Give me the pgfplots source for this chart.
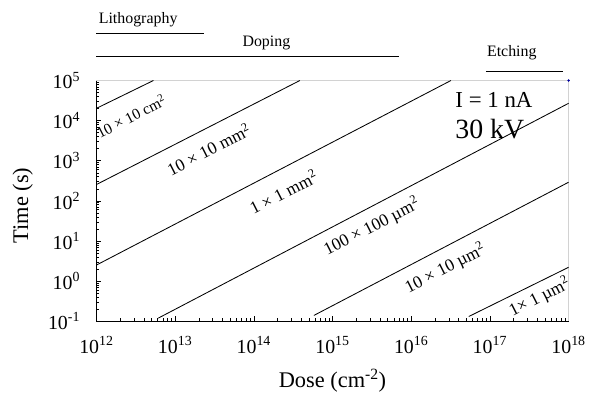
\documentclass[border=0pt]{standalone}
\usepackage{fontspec}
\setmainfont{Liberation Serif}
\usepackage{pgfplots}
\pgfplotsset{compat=1.18}
\begin{document}
\begin{tikzpicture}
\begin{axis}[
  scale only axis, width=475pt, height=242pt,
  xmode=log, ymode=log,
  xmin=1e12, xmax=1e18, ymin=1e-1, ymax=1e5,
  axis lines=left, axis line style={-, black, line width=0.6pt},
  tick align=inside,
  xtick={1e12,1e13,1e14,1e15,1e16,1e17,1e18},
  xticklabels={10\textsuperscript{12},10\textsuperscript{13},10\textsuperscript{14},10\textsuperscript{15},10\textsuperscript{16},10\textsuperscript{17},10\textsuperscript{18}},
  ytick={1e-1,1e0,1e1,1e2,1e3,1e4,1e5},
  yticklabels={10\textsuperscript{-1},10\textsuperscript{0},10\textsuperscript{1},10\textsuperscript{2},10\textsuperscript{3},10\textsuperscript{4},10\textsuperscript{5}},
  ticklabel style={font=\fontsize{20}{20}\selectfont},
  xticklabel style={yshift=-12pt},
  yticklabel style={xshift=-13pt},
  xlabel={Dose (cm\textsuperscript{-2})},
  ylabel={Time (s)},
  label style={font=\fontsize{22.5}{22.5}\selectfont},
  xlabel style={at={([yshift=-60pt]axis description cs:0.5,0)}, anchor=center},
  ylabel style={at={([xshift=-74pt]axis description cs:0,0.481)}, anchor=center},
  clip=false,
  major tick length=5pt, minor tick length=3pt,
  tick style={black, line width=0.4pt},
]
\draw[gray!35, line width=0.6pt] (rel axis cs:0,1) -- (rel axis cs:1,1) -- (rel axis cs:1,0);
% time vs dose lines
\addplot[black, line width=0.85pt] coordinates {(1e12,2.02e4) (5.3e12,1e5)};
\addplot[black, line width=0.85pt] coordinates {(1e12,254) (3.85e14,1e5)};
\addplot[black, line width=0.85pt] coordinates {(1e12,2.49) (3.2e16,1e5)};
\addplot[black, line width=0.85pt] coordinates {(6.1e12,0.118) (1e18,2.7e4)};
\addplot[black, line width=0.85pt] coordinates {(5.8e14,0.138) (1e18,290)};
\addplot[black, line width=0.85pt] coordinates {(5.4e16,0.13) (1e18,2.19)};
% process ranges
\addplot[black, line width=0.85pt] coordinates {(1e12,1.5e6) (2.31e13,1.5e6)};
\addplot[black, line width=0.85pt] coordinates {(1e12,3.94e5) (7.1e15,3.94e5)};
\addplot[black, line width=0.85pt] coordinates {(8.9e16,1.67e5) (8.4e17,1.67e5)};
\addplot[only marks, mark=*, mark size=1pt, color={rgb,255:red,0;green,0;blue,160}] coordinates {(1e18,1e5)};
\node[font=\fontsize{16}{16}\selectfont] at (axis cs:3.39e12,3.3e6) {Lithography};
\node[font=\fontsize{16}{16}\selectfont] at (axis cs:1.445e14,8.6e5) {Doping};
\node[font=\fontsize{16}{16}\selectfont] at (axis cs:1.9e17,4.9e5) {Etching};
\node[font=\fontsize{15.5}{15.5}\selectfont, rotate=27] at (axis cs:2.75e12,1.3e4) {10 × 10 cm\textsuperscript{2}};
\node[font=\fontsize{17.5}{17.5}\selectfont, rotate=27] at (axis cs:2.67e13,1945) {10 × 10 mm\textsuperscript{2}};
\node[font=\fontsize{17.5}{17.5}\selectfont, rotate=27] at (axis cs:2.37e14,167) {1 × 1 mm\textsuperscript{2}};
\node[font=\fontsize{17.5}{17.5}\selectfont, rotate=27] at (axis cs:3.155e15,22.6) {100 × 100 µm\textsuperscript{2}};
\node[font=\fontsize{17.5}{17.5}\selectfont, rotate=27] at (axis cs:2.71e16,2.06) {10 × 10 µm\textsuperscript{2}};
\node[font=\fontsize{17.5}{17.5}\selectfont, rotate=27] at (axis cs:4.3e17,0.394) {1× 1 µm\textsuperscript{2}};
\node[font=\fontsize{23}{23}\selectfont, anchor=west, inner sep=0pt] at (axis cs:3.63e16,3.19e4) {I = 1 nA};
\node[font=\fontsize{28}{28}\selectfont, anchor=west, inner sep=0pt] at (axis cs:3.63e16,6095) {30 kV};
\end{axis}
\path ([shift={(-97pt,-71pt)}]current axis.south west) rectangle ([shift={(492pt,323pt)}]current axis.south west);
\end{tikzpicture}
\end{document}
